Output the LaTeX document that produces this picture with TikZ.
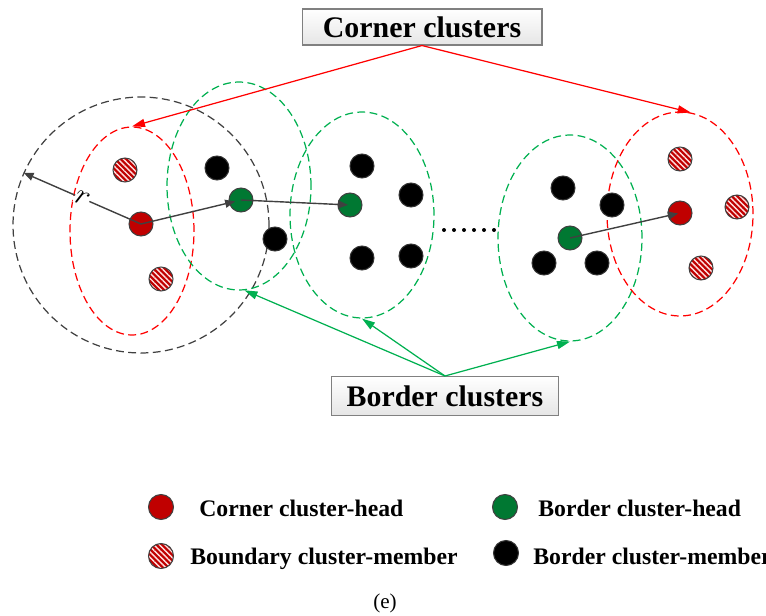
\documentclass[tikz,border=0pt]{standalone}
\usepackage{fontspec}
\setmainfont{Liberation Serif}
\usetikzlibrary{shapes.geometric, arrows.meta, patterns.meta}

\definecolor{chred}{RGB}{192,0,0}
\definecolor{chgreen}{RGB}{0,120,50}
\definecolor{linegray}{RGB}{64,64,64}
\definecolor{zonegreen}{RGB}{0,176,80}

\begin{document}
\begin{tikzpicture}[x=0.02cm, y=-0.02cm,
    sensor/.style={circle, draw=linegray, line width=0.6pt, minimum size=0.48cm, inner sep=0pt},
    corner/.style={sensor, fill=chred},
    border/.style={sensor, fill=chgreen},
    member/.style={sensor, fill=black, draw=black!80},
    boundary/.style={sensor, preaction={fill=chred}, pattern={Lines[angle=-45, distance=2.2pt, line width=0.8pt]}, pattern color=red!12},
    zone/.style={ellipse, dash pattern=on 4.5pt off 2.5pt, line width=0.7pt, inner sep=0pt},
    title/.style={rectangle, draw=gray, line width=0.6pt, top color=white, bottom color=gray!20, font=\fontsize{17}{20}\selectfont\bfseries, minimum height=0.72cm},
    legend/.style={anchor=base west, inner sep=0pt, font=\fontsize{13.5}{16}\selectfont\bfseries},
    link/.style={draw=linegray, line width=0.8pt, -{Triangle[length=0.2cm, width=0.16cm]}},
    pointer/.style={line width=0.7pt, -{Triangle[length=0.26cm, width=0.16cm]}}]

    \useasboundingbox (0,0) rectangle (766,615);

    % cluster zones
    \node [zone, circle, draw=linegray, minimum size=5.12cm] (range) at (141,225) {};
    \node [zone, draw=red, minimum width=2.48cm, minimum height=4.16cm] (zonel) at (132,231) {};
    \node [zone, draw=zonegreen, minimum width=2.88cm, minimum height=4.16cm] (zone1) at (239,186) {};
    \node [zone, draw=zonegreen, minimum width=2.88cm, minimum height=4.12cm] (zone2) at (362,215) {};
    \node [zone, draw=zonegreen, minimum width=2.88cm, minimum height=4.12cm] (zone3) at (570,238) {};
    \node [zone, draw=red, minimum width=2.92cm, minimum height=4.08cm] (zoner) at (680,214) {};

    % sensor nodes
    \node [corner] (headl) at (141,224) {};
    \node [corner] (headr) at (680,213) {};
    \node [border] (bh1) at (241,200) {};
    \node [border] (bh2) at (350,205) {};
    \node [border] (bh3) at (570,238) {};
    \foreach \p [count=\i] in {(125,170),(161,279),(680,159),(737,207),(701,268)}
        \node [boundary] (bm\i) at \p {};
    \foreach \p [count=\i] in {(217,168),(275,239),(362,166),(411,195),(362,258),(411,256),(563,188),(612,205),(544,263),(597,263)}
        \node [member] (m\i) at \p {};
    \foreach \x in {444,454,...,494}
        \fill (\x,230) circle [radius=2];

    \draw [link, shorten >=0.12cm] (headl.center) -- (bh1.center);
    \draw [link, shorten >=0.04cm] (bh1.center) -- (bh2.center);
    \draw [link, shorten >=0.04cm] (bh3.center) -- (headr.center);
    \draw [link] (headl.center) -- node[fill=white, inner sep=0.3pt, sloped, font=\fontsize{17}{19}\selectfont] {$r$} (range.156);

    \node [title, minimum width=4.8cm] (corners) at (422,27) {Corner clusters};
    \node [title, minimum width=4.54cm, minimum height=0.78cm] (borders) at (445,396) {Border clusters};

    \draw [pointer, red] (corners.south) -- (zonel.north);
    \draw [pointer, red] (corners.south) -- (zoner.84);
    \draw [pointer, zonegreen] (borders.north) -- (zone1.-87);
    \draw [pointer, zonegreen] (borders.north) -- (zone2.south);
    \draw [pointer, zonegreen] (borders.north) -- (zone3.south);

    % legend
    \node [corner, minimum size=0.5cm] (keych) at (161,507) {};
    \node [legend] (keychtext) at (199,516) {Corner cluster-head};
    \node [boundary, minimum size=0.5cm] (keybm) at (161,556) {};
    \node [legend] (keybmtext) at (190,564) {Boundary cluster-member};
    \node [border, minimum size=0.5cm] (keybh) at (505,507) {};
    \node [legend] (keybhtext) at (538,516) {Border cluster-head};
    \node [member, minimum size=0.5cm] (keym) at (506,553) {};
    \node [legend] (keymtext) at (533,564) {Border cluster-member};

    \node [font=\fontsize{12}{14}\selectfont] (caption) at (385,603) {(e)};
\end{tikzpicture}
\end{document}
